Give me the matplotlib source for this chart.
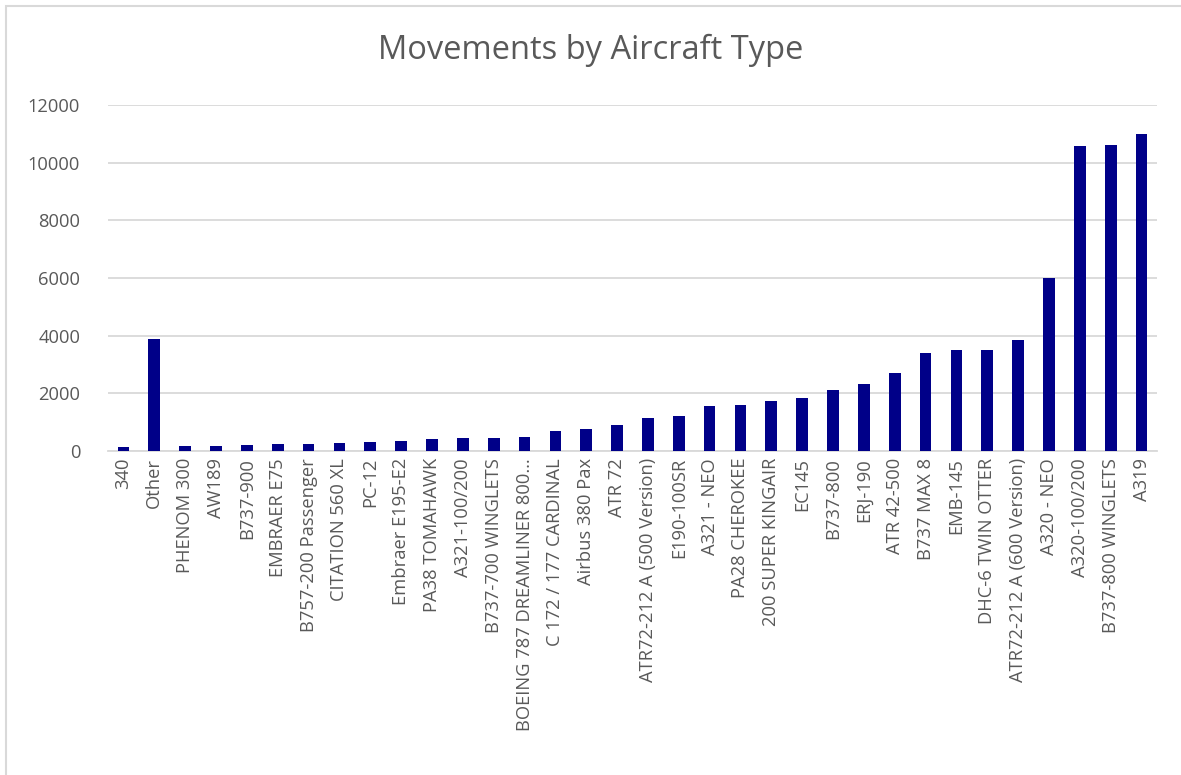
import matplotlib.pyplot as plt
import matplotlib.patches as mpatches

# ---------------- DATA ----------------
aircraft = [
    "340", "Other", "PHENOM 300", "AW189", "B737-900", "EMBRAER E75",
    "B757-200 Passenger", "CITATION 560 XL", "PC-12", "Embraer E195-E2",
    "PA38 TOMAHAWK", "A321-100/200", "B737-700 WINGLETS",
    "BOEING 787 DREAMLINER 800…", "C 172 / 177 CARDINAL", "Airbus 380 Pax",
    "ATR 72", "ATR72-212 A (500 Version)", "E190-100SR", "A321 - NEO",
    "PA28 CHEROKEE", "200 SUPER KINGAIR", "EC145", "B737-800", "ERJ-190",
    "ATR 42-500", "B737 MAX 8", "EMB-145", "DHC-6 TWIN OTTER",
    "ATR72-212 A (600 Version)", "A320 - NEO", "A320-100/200",
    "B737-800 WINGLETS", "A319",
]
movements = [
    150, 3870, 185, 185, 197, 243,
    255, 266, 324, 359,
    405, 451, 463,
    474, 706, 752,
    903, 1146, 1204, 1551,
    1609, 1736, 1852, 2106, 2315,
    2697, 3400, 3490, 3513,
    3849, 6017, 10562,
    10597, 10991,
]
y_ticks = [0, 2000, 4000, 6000, 8000, 10000, 12000]

# ---------------- STYLE ----------------
BAR_COLOR = "#000088"
TEXT_COLOR = "#595959"
GRID_COLOR = "#D9D9D9"
FONT = ["Open Sans", "DejaVu Sans"]

plt.rcParams["font.family"] = FONT

fig = plt.figure(figsize=(11.81, 7.75), dpi=100)
ax = fig.add_axes([108 / 1181, 1 - 451 / 775, 1049 / 1181, 346 / 775])

x = range(len(aircraft))
ax.bar(x, movements, width=0.38, color=BAR_COLOR, zorder=3)

ax.set_xlim(-0.5, len(aircraft) - 0.5)
ax.set_ylim(0, 12000)
ax.set_yticks(y_ticks)
ax.set_yticklabels([str(v) for v in y_ticks])
ax.set_xticks(list(x))
ax.set_xticklabels(aircraft, rotation=90)

ax.grid(axis="y", color=GRID_COLOR, linewidth=1.3, zorder=0)
for side in ["top", "right", "left"]:
    ax.spines[side].set_visible(False)
ax.spines["bottom"].set_color(GRID_COLOR)
ax.spines["bottom"].set_linewidth(1.3)
ax.tick_params(axis="both", length=0, labelsize=13.2, colors=TEXT_COLOR)
ax.tick_params(axis="y", pad=20)
ax.tick_params(axis="x", pad=5)

fig.text(0.5, 1 - 50 / 775, "Movements by Aircraft Type", ha="center", va="center",
         fontsize=23.5, color=TEXT_COLOR)

# chart border (Excel style)
fig.patches.append(mpatches.Rectangle((6 / 1181, -0.02), 1.05, 1 - 6 / 775 + 0.02,
                                      transform=fig.transFigure, fill=False,
                                      edgecolor=GRID_COLOR, linewidth=1.5))

fig.savefig("out.png", dpi=100, facecolor="white")
